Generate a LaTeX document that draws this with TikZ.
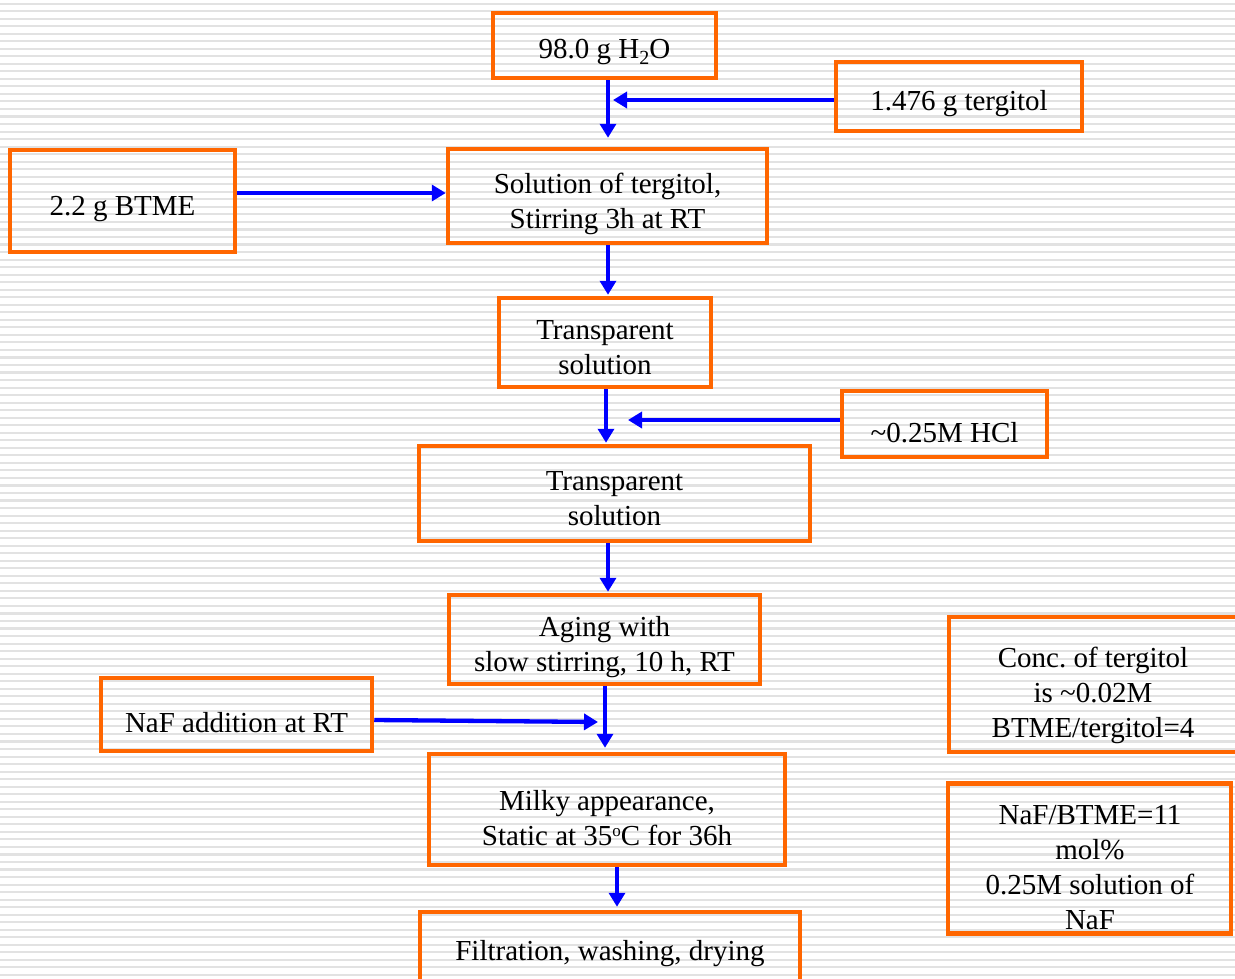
\documentclass[tikz,border=0pt]{standalone}
\usepackage{fontspec}
\setmainfont{Liberation Serif}
\usetikzlibrary{arrows.meta}
\frenchspacing
\definecolor{boxorange}{HTML}{FF6600}
\definecolor{arrblue}{HTML}{0000FF}
\definecolor{stripegray}{HTML}{E2E2E2}
\newcommand{\lowsub}[1]{\raisebox{-6pt}{\fontsize{20}{20}\selectfont #1}}
\newcommand{\highsup}[1]{\raisebox{9pt}{\fontsize{17}{17}\selectfont #1}}
\tikzset{
  box/.style={draw=boxorange, line width=4.5pt, rectangle, inner sep=0pt},
  txt/.style={align=center, inner sep=0pt, font=\fontsize{29}{35}\selectfont},
  arr/.style={draw=arrblue, line width=4.3pt, -{Triangle[length=14pt,width=16pt]}},
}
\begin{document}
\begin{tikzpicture}[x=1pt,y=-1pt]
\useasboundingbox (0,0) rectangle (1235,978);
\clip (0,0) rectangle (1235,978);
\fill[white] (0,0) rectangle (1235,978);
\foreach \i in {0,...,130} {
  \fill[stripegray] (0,{2.5+7.53*\i}) rectangle (1235,{4.6+7.53*\i});
}
% boxes
\node[box, minimum width=223pt, minimum height=65pt,
  label={[txt,yshift=-6pt]center:{98.0 g H\lowsub{2}O}}] (h2o) at (604.5,45.5) {};
\node[box, minimum width=246pt, minimum height=69pt,
  label={[txt,yshift=-7pt]center:{1.476 g tergitol}}] (terg) at (959,96.5) {};
\node[box, minimum width=225pt, minimum height=102pt,
  label={[txt,yshift=-8pt]center:{2.2 g BTME}}] (btme) at (122.5,201) {};
\node[box, minimum width=319pt, minimum height=94pt,
  label={[txt,yshift=-8pt]center:{Solution of tergitol,\\Stirring 3h at RT}}] (sol) at (607.5,196) {};
\node[box, minimum width=212pt, minimum height=89pt,
  label={[txt,yshift=-5.5pt]center:{Transparent\\solution}}] (tr1) at (605,342.5) {};
\node[box, minimum width=205pt, minimum height=66pt,
  label={[txt,yshift=-9pt]center:{\char"007E 0.25M HCl}}] (hcl) at (944.5,424) {};
\node[box, minimum width=391pt, minimum height=95pt,
  label={[txt,yshift=-5pt]center:{Transparent\\solution}}] (tr2) at (614.5,493.5) {};
\node[box, minimum width=311pt, minimum height=89pt,
  label={[txt,yshift=-8pt]center:{Aging with\\slow stirring, 10 h, RT}}] (aging) at (604.5,639.5) {};
\node[box, minimum width=271pt, minimum height=73pt,
  label={[txt,yshift=-8pt]center:{NaF addition at RT}}] (naf) at (236.5,714.5) {};
\node[box, minimum width=356pt, minimum height=111pt,
  label={[txt,yshift=-9pt]center:{Milky appearance,\\Static at 35\highsup{o}C for 36h}}] (milky) at (607,809.5) {};
\node[box, minimum width=380pt, minimum height=76pt,
  label={[txt,yshift=-4pt]center:{Filtration, washing, drying}}] (filt) at (610,950) {};
\node[box, minimum width=288pt, minimum height=135pt,
  label={[txt,yshift=-11pt]center:{Conc. of tergitol\\is \char"007E 0.02M\\BTME/tergitol=4}}] (conc) at (1093,684.5) {};
\node[box, minimum width=283pt, minimum height=150pt,
  label={[txt,yshift=-9.5pt,xshift=0.5pt]center:{NaF/BTME=11\\mol\%\\0.25M solution of\\NaF}}] (nafb) at (1089.5,858.5) {};
% free ends
\coordinate (tergend) at (613,100);
\coordinate (hclend) at (628,420);
\coordinate (nafend) at (598,722);
% arrows
\draw[arr, shorten >=9pt] ([xshift=3.5pt]h2o.south) -- ([xshift=0.5pt]sol.north);
\draw[arr] ([yshift=-3.5pt]terg.west) -- (tergend);
\draw[arr] ([yshift=8pt]btme.east) -- ([yshift=3pt]sol.west);
\draw[arr, shorten >=1pt] ([xshift=0.5pt]sol.south) -- ([xshift=3pt]tr1.north);
\draw[arr, shorten >=1pt] ([xshift=1pt]tr1.south) -- ([xshift=-8.5pt]tr2.north);
\draw[arr] ([yshift=4pt]hcl.west) -- (hclend);
\draw[arr, shorten >=1pt] ([xshift=-6.5pt]tr2.south) -- ([xshift=3.5pt]aging.north);
\draw[arr, shorten >=4pt] ([xshift=0.5pt]aging.south) -- ([xshift=-2pt]milky.north);
\draw[arr] ([yshift=-5.5pt]naf.east) -- (nafend);
\draw[arr, shorten >=3pt] ([xshift=10pt]milky.south) -- ([xshift=7pt]filt.north);
\end{tikzpicture}
\end{document}
